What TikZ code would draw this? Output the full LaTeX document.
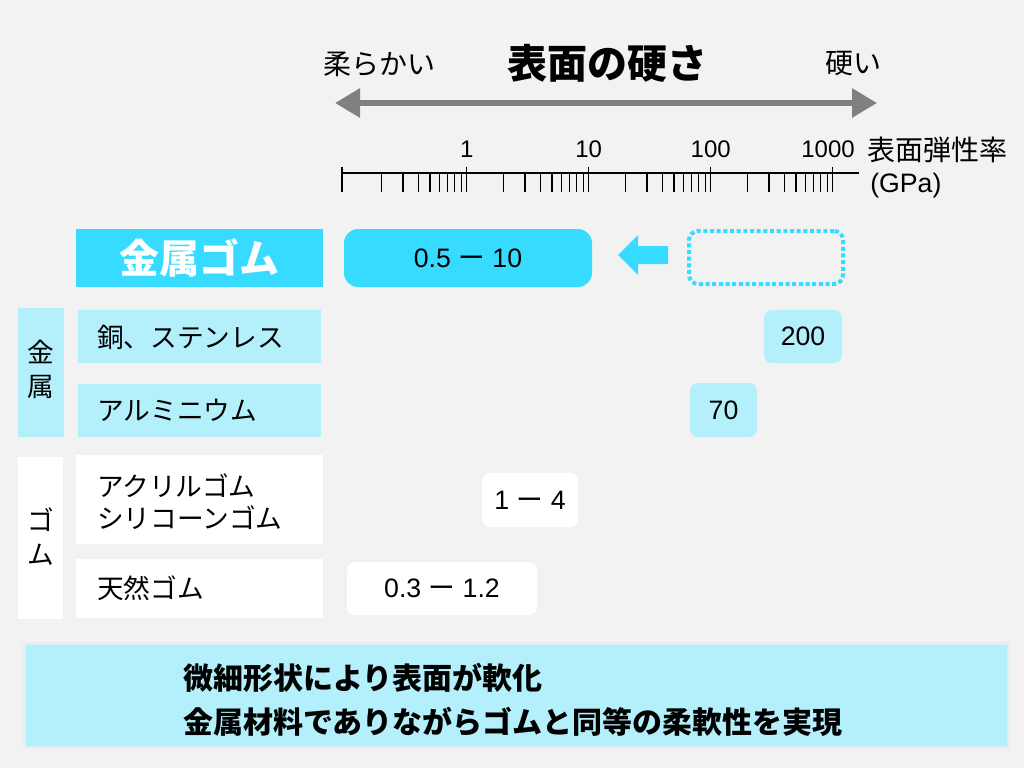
\documentclass[tikz,border=0pt]{standalone}
\usepackage{fontspec}
\setmainfont{Liberation Sans}
\newfontfamily\jp{Noto Sans CJK JP}
\usetikzlibrary{arrows.meta}
\newlength\pxu
\setlength\pxu{0.75pt}
\definecolor{bg}{HTML}{F2F2F2}
\definecolor{cyanA}{HTML}{36DBFF}
\definecolor{cyanL}{HTML}{B3F0FC}
\definecolor{glowc}{HTML}{9FE6F5}
\definecolor{arrgray}{HTML}{808080}
\tikzset{
  jptext/.style={font=\jp\fontsize{20}{24}\selectfont, inner sep=0pt},
  numtext/.style={font=\fontsize{18}{22}\selectfont, inner sep=0pt},
  valtext/.style={font=\fontsize{20}{24}\selectfont, inner sep=0pt},
  cellbox/.style={inner sep=0pt, draw=none},
  valbox/.style={inner sep=0pt, draw=none, rounded corners=8\pxu, font=\fontsize{20}{24}\selectfont},
}
\newcommand{\chodash}{{\jp ー}}
\begin{document}
\begin{tikzpicture}[x=0.75pt,y=-0.75pt]
\fill[bg] (0,0) rectangle (1024,768);
\useasboundingbox (0,0) rectangle (1024,768);

% title and hardness arrow
\node[font=\jp\bfseries\fontsize{30}{36}\selectfont, inner sep=0pt] (title) at (607,63) {表面の硬さ};
\node[jptext, font=\jp\fontsize{21}{24}\selectfont] (soft) at (379,64) {柔らかい};
\node[jptext, font=\jp\fontsize{21}{24}\selectfont] (hard) at (853,64) {硬い};
\coordinate (aL) at (335,103);
\coordinate (aR) at (877,103);
\draw[arrgray, line width=4.5pt, {Triangle[length=18.75pt,width=21pt]}-{Triangle[length=18.75pt,width=21pt]}] (aL) -- (aR);

% axis
\coordinate (axL) at (342,173);
\coordinate (axR) at (859,173);
\draw[line width=0.9pt] (axL) -- (axR);
\draw[line width=0.9pt] (342,167) -- (342,192);
\foreach \k in {0,1,2,3} {
  \pgfmathsetmacro{\xm}{466.7+122*\k}
  \draw[line width=0.9pt] (\xm,167) -- (\xm,192);
}
\foreach \k in {-1,0,1,2} {
  \foreach \m in {2,...,9} {
    \pgfmathsetmacro{\xm}{466.7+122*\k+122*ln(\m)/ln(10)}
    \draw[line width=0.9pt] (\xm,173) -- (\xm,192);
  }
}
\node[numtext] (t1) at (466.7,149) {1};
\node[numtext] (t10) at (588.7,149) {10};
\node[numtext] (t100) at (710.7,149) {100};
\node[numtext] (t1000) at (828,149) {1000};
\node[jptext, anchor=west, font=\jp\fontsize{21}{24}\selectfont] (unit) at (867,150) {表面弾性率};
\node[valtext, anchor=west] (gpa) at (870,186) {(GPa)};

% metal rubber row
\node[cellbox, fill=cyanA, minimum width=247\pxu, minimum height=58\pxu,
      text=white, font=\jp\bfseries\fontsize{30}{36}\selectfont] (mgHead) at (199.5,258) {金属ゴム};
\node[valbox, fill=cyanA, rounded corners=14\pxu, minimum width=248\pxu, minimum height=58\pxu] (mgVal) at (468,258) {0.5 \chodash{} 10};
\fill[cyanA] (668,246) -- (638,246) -- (638,235) -- (618,255) -- (638,275) -- (638,264) -- (668,264) -- cycle;
\node[cellbox, draw=cyanA, line width=3pt, dash pattern=on 3pt off 2pt, rounded corners=9\pxu,
      minimum width=154\pxu, minimum height=53\pxu] (dotBox) at (766,257.5) {};

% metal group
\node[cellbox, fill=cyanL, minimum width=46\pxu, minimum height=129\pxu] (gMetal) at (41,372.5) {};
\node[jptext, align=center, font=\jp\fontsize{20}{25.5}\selectfont] (gMetalT) at (41,369) {金\\属};
\node[cellbox, fill=cyanL, minimum width=243\pxu, minimum height=53\pxu] (rCu) at (199.5,336.5) {};
\node[jptext, anchor=west] (rCuT) at (97,337) {銅、ステンレス};
\node[cellbox, fill=cyanL, minimum width=243\pxu, minimum height=53\pxu] (rAl) at (199.5,410.5) {};
\node[jptext, anchor=west] (rAlT) at (97,410.5) {アルミニウム};

% rubber group
\node[cellbox, fill=white, minimum width=45\pxu, minimum height=162\pxu] (gRub) at (40.5,538) {};
\node[jptext, align=center, font=\jp\fontsize{20}{25.5}\selectfont] (gRubT) at (41,537) {ゴ\\ム};
\node[cellbox, fill=white, minimum width=247\pxu, minimum height=89\pxu] (rR1) at (199.5,499.5) {};
\node[jptext, anchor=west, align=left, font=\jp\fontsize{20}{24}\selectfont] (rR1T) at (97,502) {アクリルゴム\\シリコーンゴム};
\node[cellbox, fill=white, minimum width=247\pxu, minimum height=59\pxu] (rR2) at (199.5,588.5) {};
\node[jptext, anchor=west] (rR2T) at (97,588) {天然ゴム};

% values
\node[valbox, fill=cyanL, minimum width=78\pxu, minimum height=53\pxu] (v200) at (803,336.5) {200};
\node[valbox, fill=cyanL, minimum width=67\pxu, minimum height=54\pxu] (v70) at (723.5,410) {70};
\node[valbox, fill=white, minimum width=96\pxu, minimum height=54\pxu] (v14) at (530,500) {1 \chodash{} 4};
\node[valbox, fill=white, minimum width=190\pxu, minimum height=53\pxu] (v0312) at (442,588.5) {0.3 \chodash{} 1.2};

% summary
\foreach \g in {1,...,4} {
  \fill[glowc, opacity=0.06] (26-\g,645-\g) rectangle (1007+\g,746+\g);
}
\node[cellbox, fill=cyanL, minimum width=981\pxu, minimum height=101\pxu] (summary) at (516.5,695.5) {};
\node[anchor=west, align=left, inner sep=0pt, font=\jp\bfseries\fontsize{22.5}{33}\selectfont] (summaryT) at (183,700) {微細形状により表面が軟化\\金属材料でありながらゴムと同等の柔軟性を実現};
\end{tikzpicture}
\end{document}
